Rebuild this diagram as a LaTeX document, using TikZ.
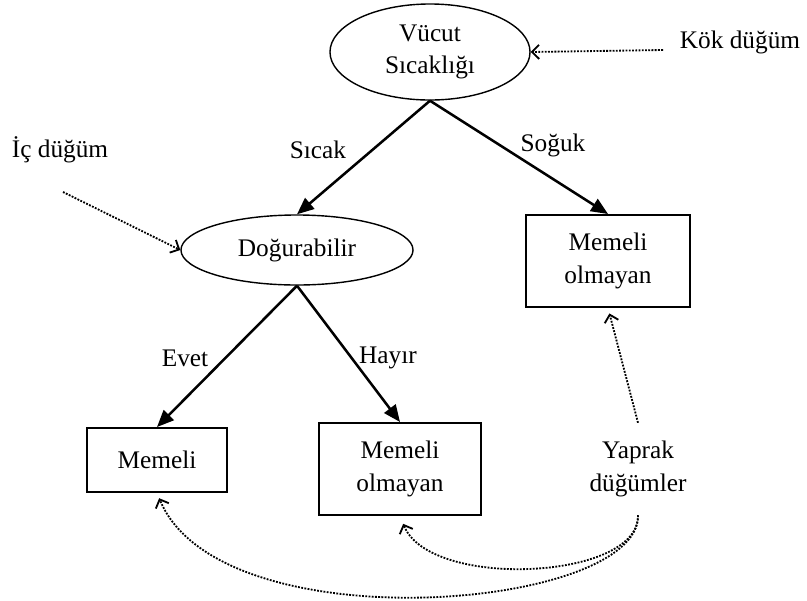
\documentclass[tikz,border=0pt]{standalone}
\usepackage{fontspec}
\setmainfont{Liberation Serif}
\usetikzlibrary{shapes.geometric,arrows.meta}

\begin{document}
\begin{tikzpicture}
      [%%%%%%%%%%%%%%%%%%%%%%%%%%%%%%
      x=0.025cm,y=-0.025cm,
      every node/.style={font=\fontsize{18}{23}\selectfont,align=center},
      oval/.style={ellipse,draw=black,line width=1pt,inner sep=0pt},
      box/.style={rectangle,draw=black,line width=1.4pt,inner sep=0pt},
      branch/.style={line width=1.8pt,-{Triangle[length=12pt,width=10pt]}},
      hint/.style={densely dotted,line width=1.3pt,-{Straight Barb[length=5pt,width=10pt]}},
      ]%%%%%%%%%%%%%%%%%%%%%%%%%%%%%%
      \useasboundingbox (0,0) rectangle (807,600);

      \node[oval,minimum width=5cm,minimum height=2.4cm] (root) at (430,52) {Vücut\\Sıcaklığı};
      \node[oval,minimum width=5.8cm,minimum height=1.75cm] (dogur) at (297,250) {Doğurabilir};
      \node[box,minimum width=4.08cm,minimum height=2.3cm] (sogukleaf) at (608,261) {Memeli\\olmayan};
      \node[box,minimum width=3.48cm,minimum height=1.6cm] (memeli) at (157,460) {Memeli};
      \node[box,minimum width=4.05cm,minimum height=2.3cm] (hayirleaf) at (400,469) {Memeli\\olmayan};

      \draw[branch] (root.south) -- (dogur.north);
      \draw[branch] (root.south) -- (sogukleaf.north);
      \draw[branch] (dogur.south) -- (memeli.north);
      \draw[branch] (dogur.south) -- (hayirleaf.north);

      \node (sicak) at (318,150) {Sıcak};
      \node (soguk) at (553,145) {Soğuk};
      \node (evet) at (185,358) {Evet};
      \node (hayir) at (388,358) {Hayır};

      % aciklamalar
      \node (kok) at (740,42) {Kök düğüm};
      \coordinate (kokuc) at (663,50);
      \draw[hint] (kokuc) -- (root.east);

      \node (ic) at (60,150) {İç düğüm};
      \coordinate (icuc) at (63,192);
      \draw[hint] (icuc) -- (dogur.west);

      \node[inner ysep=13pt] (yaprak) at (638,469) {Yaprak\\düğümler};
      \draw[hint,shorten >=4pt] (yaprak.north) -- (sogukleaf.south);
      \draw[hint,shorten >=6pt] (yaprak.south) .. controls (640,580) and (430,590) .. (hayirleaf.south);
      \draw[hint,shorten >=4pt] (yaprak.south) .. controls (640,610) and (220,645) .. (memeli.south);
    \end{tikzpicture}
\end{document}
